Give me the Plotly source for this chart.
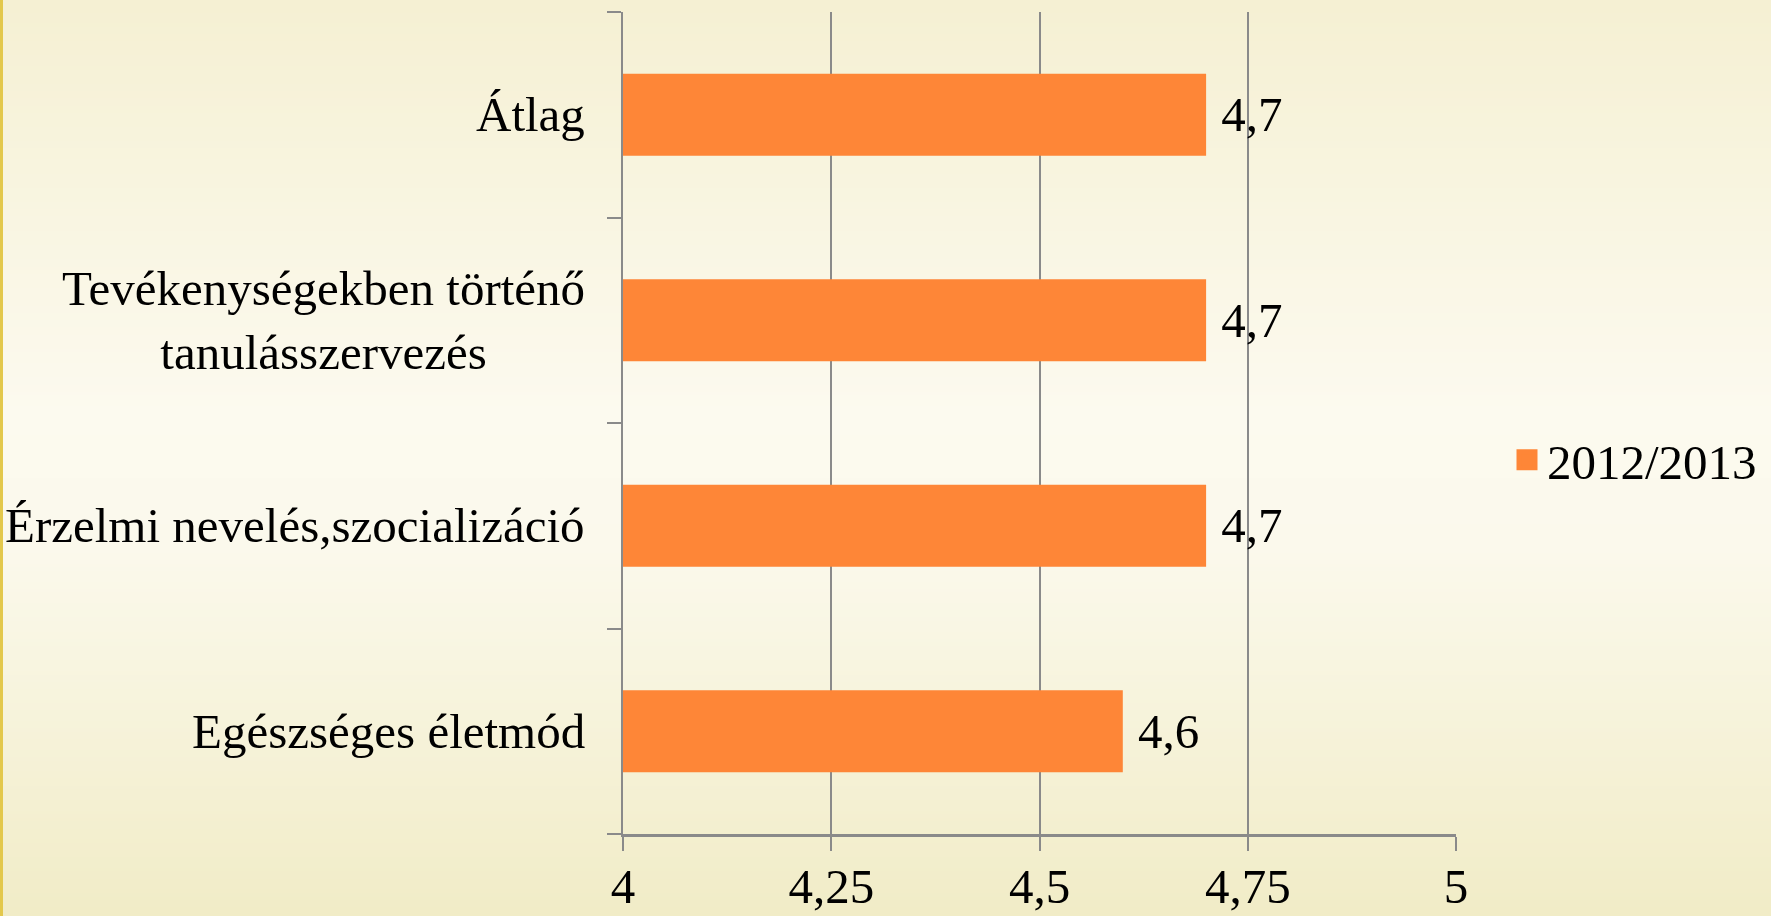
import base64
import struct
import zlib

import plotly.graph_objects as go

# ---------------- data ----------------
categories = [
    "Egészséges életmód",
    "Érzelmi nevelés,szocializáció",
    "Tevékenységekben történő<br>tanulásszervezés",
    "Átlag",
]
values_2012_2013 = [4.6, 4.7, 4.7, 4.7]
series_name = "2012/2013"
x_tick_values = [4, 4.25, 4.5, 4.75, 5]
x_tick_labels = ["4", "4,25", "4,5", "4,75", "5"]

# ---------------- layout geometry ----------------
W, H = 1771, 916
L, R, T, B = 623, W - 1456, 12, H - 834
PW, PH = W - L - R, H - T - B

FONT = "Liberation Serif, Times New Roman, serif"
FS = 49
GRID = "#8a8a8a"
BAR = "#FE8637"


def gradient_png(stops, height=256):
    rows = []
    for i in range(height):
        f = i / (height - 1)
        for (f0, c0), (f1, c1) in zip(stops[:-1], stops[1:]):
            if f0 <= f <= f1:
                t = (f - f0) / (f1 - f0) if f1 > f0 else 0
                rows.append([round(a + (b - a) * t) for a, b in zip(c0, c1)])
                break
    raw = b"".join(b"\x00" + bytes(r) for r in rows)

    def chunk(tag, data):
        c = struct.pack(">I", len(data)) + tag + data
        return c + struct.pack(">I", zlib.crc32(tag + data) & 0xFFFFFFFF)

    png = b"\x89PNG\r\n\x1a\n"
    png += chunk(b"IHDR", struct.pack(">IIBBBBB", 1, height, 8, 2, 0, 0, 0))
    png += chunk(b"IDAT", zlib.compress(raw, 9))
    png += chunk(b"IEND", b"")
    return "data:image/png;base64," + base64.b64encode(png).decode()


bg = gradient_png([
    (0.0, (245, 240, 211)),
    (0.45, (252, 250, 239)),
    (0.6, (251, 249, 236)),
    (1.0, (241, 236, 199)),
])

fig = go.Figure()
fig.add_trace(go.Bar(
    y=categories,
    x=values_2012_2013,
    orientation="h",
    name=series_name,
    marker=dict(color=BAR, line=dict(width=0)),
    text=["\u00a0" + f"{v:.1f}".replace(".", ",") for v in values_2012_2013],
    textposition="outside",
    textfont=dict(family=FONT, size=FS, color="black"),
    constraintext="none",
    cliponaxis=False,
    showlegend=False,
    legendgroup="s",
))
# legend entry for the series (larger square swatch than the bar default)
fig.add_trace(go.Scatter(
    x=[None], y=[None], mode="markers", name=series_name, legendgroup="s",
    marker=dict(symbol="square", size=16, color=BAR,
                line=dict(width=5, color=BAR)),
    showlegend=True, hoverinfo="skip",
))

annotations = [
    dict(
        text=c, x=0, y=c, xref="paper", yref="y",
        xanchor="right", yanchor="middle", align="center",
        xshift=-36, showarrow=False,
        font=dict(family=FONT, size=FS, color="black"),
    )
    for c in categories
]

fig.update_layout(
    width=W, height=H,
    margin=dict(l=L, r=R, t=T, b=B, pad=0, autoexpand=False),
    paper_bgcolor="#FAF7E8",
    plot_bgcolor="rgba(0,0,0,0)",
    bargap=0.6,
    separators=", ",
    font=dict(family=FONT, size=FS, color="black"),
    annotations=annotations,
    images=[dict(
        source=bg, xref="paper", yref="paper",
        x=-L / PW, y=1 + T / PH, sizex=W / PW, sizey=H / PH,
        xanchor="left", yanchor="top", sizing="stretch", layer="below",
    )],
    shapes=[dict(
        type="rect", xref="paper", yref="paper",
        x0=-L / PW, x1=(3 - L) / PW, y0=-B / PH, y1=1 + T / PH,
        fillcolor="#E3C84C", line=dict(width=0), layer="below",
    )],
    legend=dict(
        xref="container", yref="container",
        x=1507 / W, y=1 - 460 / H, xanchor="left", yanchor="middle",
        bgcolor="rgba(0,0,0,0)", font=dict(family=FONT, size=FS, color="black"),
        itemwidth=30,
    ),
    xaxis=dict(
        range=[4, 5], tickvals=x_tick_values, ticktext=x_tick_labels,
        showgrid=True, gridcolor=GRID, gridwidth=2,
        showline=True, linecolor=GRID, linewidth=2.5,
        ticks="outside", ticklen=14, tickcolor=GRID, tickwidth=2,
        ticklabelstandoff=-7, automargin=False,
        zeroline=False, tickfont=dict(family=FONT, size=FS, color="black"),
    ),
    yaxis=dict(
        type="category", categoryorder="array", categoryarray=categories,
        showticklabels=False, showgrid=False, automargin=False,
        showline=True, linecolor=GRID, linewidth=2,
        ticks="outside", tickson="boundaries", ticklen=14,
        tickcolor=GRID, tickwidth=2, zeroline=False,
    ),
)

fig.write_html(
    "out.html",
    config={"displayModeBar": False},
    post_script="document.body.style.margin='0';",
)
